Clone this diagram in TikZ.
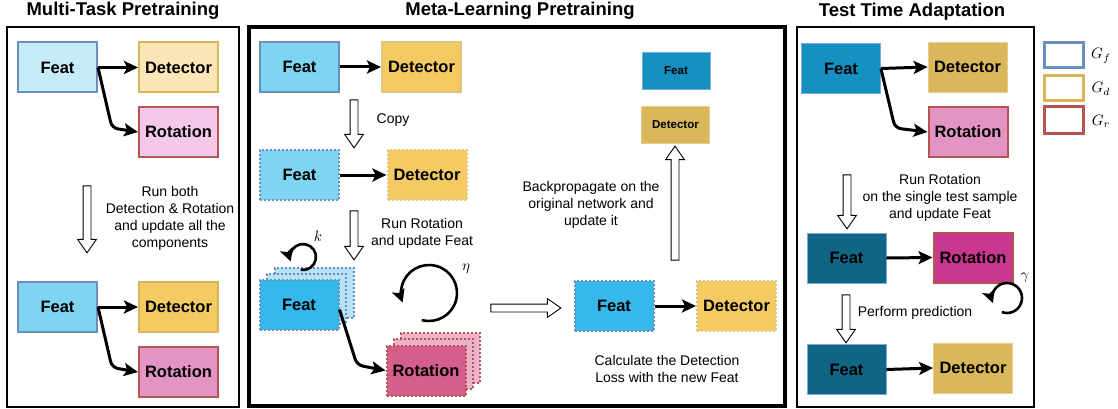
\documentclass[tikz,border=0pt]{standalone}
\usepackage{fontspec}
\setmainfont{Liberation Sans}
\usetikzlibrary{arrows.meta,shapes.arrows}
\definecolor{gfblue}{HTML}{6C8EBF}
\definecolor{gdyellow}{HTML}{D6B656}
\definecolor{grred}{HTML}{B85450}
\definecolor{thinblue}{HTML}{7EA6E0}
\definecolor{featlight}{HTML}{C6ECF9}
\definecolor{featmid}{HTML}{7FD4F2}
\definecolor{featbright}{HTML}{35B9EA}
\definecolor{featshade}{HTML}{B5E2F6}
\definecolor{featdeep}{HTML}{1490C1}
\definecolor{featdark}{HTML}{106584}
\definecolor{detlight}{HTML}{FDE6B5}
\definecolor{detmid}{HTML}{F4CA63}
\definecolor{detgold}{HTML}{DAB75B}
\definecolor{rotlight}{HTML}{F3C8E9}
\definecolor{rotmid}{HTML}{E394C4}
\definecolor{rotrose}{HTML}{D45F8B}
\definecolor{rotshade}{HTML}{EBB3CB}
\definecolor{rotmag}{HTML}{C9378E}

\begin{document}
\begin{tikzpicture}[x=1pt,y=-1pt,
  box/.style={draw, line width=2pt, minimum width=79pt, minimum height=50pt, inner sep=0pt, font=\fontsize{16.5}{19}\selectfont\bfseries},
  dotbox/.style={box, dash pattern=on 2pt off 2pt, line width=2pt},
  smallbox/.style={box, line width=0.8pt, minimum width=68pt, minimum height=37pt, font=\fontsize{11.5}{13}\selectfont\bfseries},
  conn/.style={line width=3pt, -{Stealth[length=14pt,width=13pt,inset=3pt]}},
  looparrow/.style={line width=2.6pt, -{Stealth[length=13pt,width=13pt,inset=3pt]}},
  bigarrow/.style={draw, line width=0.9pt, fill=white, single arrow, inner sep=3.5pt, single arrow head extend=5.5pt, single arrow tip angle=70, minimum width=18pt},
  note/.style={font=\fontsize{14}{17}\selectfont, align=center},
  mathlabel/.style={scale=1.5, transform shape},
  paneltitle/.style={font=\fontsize{18.5}{22}\selectfont\bfseries},
  panel/.style={draw, line width=1.3pt}]
\useasboundingbox (0,0) rectangle (1118,409);

% multi-task pretraining
\node[paneltitle] (title1) at (123,11) {Multi-Task Pretraining};
\draw[panel] (7,27) rectangle (239,407);
\node[box, draw=gfblue, fill=featlight] (feat1) at (57.5,67.5) {Feat};
\node[box, draw=gdyellow, fill=detlight] (det1) at (178.5,67.5) {Detector};
\node[box, draw=grred, fill=rotlight] (rot1) at (178.5,132) {Rotation};
\draw[conn] (feat1.east) -- (det1.west);
\draw[conn, rounded corners=6pt] (feat1.east) -- (112,128) -- (rot1.west);
\node[bigarrow, shape border rotate=270, minimum height=67pt] (down1) at (87,216.5) {};
\node[note] (run1) at (170,218) {Run both\\Detection \& Rotation\\and update all the\\components};
\node[box, draw=gfblue, fill=featmid] (feat2) at (57.5,307) {Feat};
\node[box, draw=gdyellow, fill=detmid] (det2) at (178.5,307) {Detector};
\node[box, draw=grred, fill=rotmid] (rot2) at (178.5,372) {Rotation};
\draw[conn] (feat2.east) -- (det2.west);
\draw[conn, rounded corners=6pt] (feat2.east) -- (112,367.5) -- (rot2.west);

% meta-learning pretraining
\node[paneltitle] (title2) at (520,11) {Meta-Learning Pretraining};
\draw[line width=4pt] (249,27) rectangle (785,406);
\node[box, draw=gfblue, fill=featmid] (feata) at (299.5,67) {Feat};
\node[box, draw=gdyellow!80, fill=detmid] (deta) at (421.5,67) {Detector};
\draw[conn] (feata.east) -- (deta.west);
\node[bigarrow, shape border rotate=270, minimum height=48pt] (down2) at (354,121) {};
\node[note] (copy) at (393,120) {Copy};
\node[dotbox, draw=gfblue, fill=featmid] (featb) at (299.5,175) {Feat};
\node[dotbox, draw=gdyellow!80, fill=detmid] (detb) at (427,175) {Detector};
\draw[conn] (featb.east) -- (detb.west);
\node[bigarrow, shape border rotate=270, minimum height=49pt] (down3) at (354,232.5) {};
\node[note] (run2) at (422,233) {Run Rotation\\and update Feat};
\node[dotbox, draw=gfblue, fill=featshade] (featc2) at (314,292.5) {};
\node[dotbox, draw=gfblue, fill=featshade] (featc1) at (306.5,298.5) {};
\node[dotbox, draw=gfblue, fill=featbright] (featc) at (299,304.5) {Feat};
\node[dotbox, draw=grred, fill=rotshade] (rotc2) at (440,357.5) {};
\node[dotbox, draw=grred, fill=rotshade] (rotc1) at (433,363.5) {};
\node[dotbox, draw=grred, fill=rotrose] (rotc) at (426,370.5) {Rotation};
\draw[conn, rounded corners=6pt] ([yshift=-5pt]featc.east) -- (357,365) -- (rotc.west);
\coordinate (kc) at (303,257);
\draw[looparrow] ([shift={(-100:13pt)}]kc) arc[start angle=-100, end angle=200, radius=13pt];
\node[mathlabel] (klabel) at (318,236) {$k$};
\coordinate (etac) at (429,293);
\draw[looparrow] ([shift={(-105:28pt)}]etac) arc[start angle=-105, end angle=200, radius=28pt];
\node[mathlabel] (etalabel) at (466,269) {$\eta$};
\node[bigarrow, minimum height=70pt] (right1) at (523,308) {};
\node[dotbox, draw=gfblue, fill=featbright] (featd) at (614,306) {Feat};
\node[dotbox, draw=gdyellow!80, fill=detmid] (detd) at (736.5,306) {Detector};
\draw[conn] (featd.east) -- (detd.west);
\node[note] (calc) at (667,369) {Calculate the Detection\\Loss with the new Feat};
\node[bigarrow, shape border rotate=90, minimum height=114pt] (up1) at (675,206) {};
\node[note] (back) at (591,205) {Backpropagate on the\\original network and\\update it};
\node[smallbox, draw=thinblue, fill=featdeep] (feate) at (676,70.5) {Feat};
\node[smallbox, draw=detgold!70, fill=detgold] (dete) at (675.5,125) {Detector};

% test time adaptation
\node[paneltitle] (title3) at (912,12) {Test Time Adaptation};
\draw[panel] (797,27) rectangle (1034,407);
\node[box, line width=0.8pt, draw=thinblue, fill=featdeep] (featf) at (841,68.5) {Feat};
\node[box, line width=0.8pt, draw=detgold!70, fill=detgold] (detf) at (967.5,67) {Detector};
\node[box, draw=grred, fill=rotmid] (rotf) at (968,132) {Rotation};
\draw[conn] (featf.east) -- (detf.west);
\draw[conn, rounded corners=6pt] (featf.east) -- (895,128) -- (rotf.west);
\node[bigarrow, shape border rotate=270, minimum height=54pt] (down4) at (847,199) {};
\node[note] (run3) at (940,197.5) {Run Rotation\\on the single test sample\\and update Feat};
\node[box, line width=0.8pt, draw=thinblue, fill=featdark] (featg) at (846.5,258) {Feat};
\node[box, draw=grred, fill=rotmag] (rotg) at (973,257.5) {Rotation};
\draw[conn] (featg.east) -- (rotg.west);
\coordinate (gc) at (1007,298);
\draw[looparrow] ([shift={(-110:15pt)}]gc) arc[start angle=-110, end angle=200, radius=15pt];
\node[mathlabel] (glabel) at (1025,278) {$\gamma$};
\node[bigarrow, shape border rotate=270, minimum height=48pt] (down5) at (846,316) {};
\node[note] (pred) at (915,313) {Perform prediction};
\node[box, line width=0.8pt, draw=thinblue, fill=featdark] (feath) at (846.5,369.5) {Feat};
\node[box, line width=0.8pt, draw=detgold!70, fill=detgold] (deth) at (973,368) {Detector};
\draw[conn] (feath.east) -- (deth.west);

% legend
\draw[line width=3pt, draw=gfblue] (1044,43) rectangle (1083,68);
\draw[line width=3pt, draw=gdyellow] (1044,76) rectangle (1083,101);
\draw[line width=3pt, draw=grred] (1044,107) rectangle (1083,133);
\node[mathlabel] (gf) at (1101,56) {$G_f$};
\node[mathlabel] (gd) at (1101,89) {$G_d$};
\node[mathlabel] (gr) at (1101,121) {$G_r$};
\end{tikzpicture}
\end{document}
